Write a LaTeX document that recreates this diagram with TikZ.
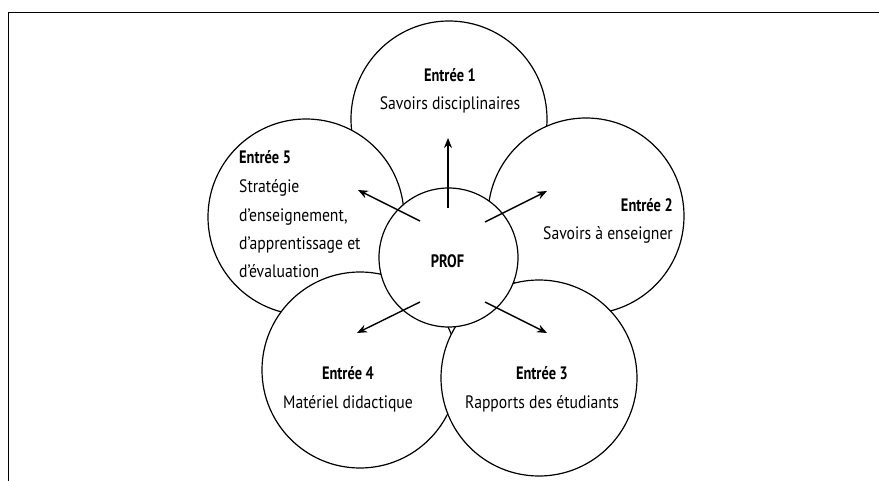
\documentclass[tikz,border=0pt]{standalone}
\usepackage{fontspec}
\setmainfont[FakeStretch=0.87, BoldFeatures={FakeStretch=0.8}]{PT Sans}
\usetikzlibrary{arrows.meta}
\tikzset{
  petal/.style={circle, draw=black, line width=1.2pt, fill=white, minimum size=196pt, inner sep=0pt},
  hub/.style={circle, draw=black, line width=1.2pt, fill=white, minimum size=139pt, inner sep=0pt},
  ttl/.style={anchor=base, inner sep=0pt, font=\fontsize{18}{20}\selectfont\bfseries},
  txt/.style={anchor=base, inner sep=0pt, font=\fontsize{18}{20}\selectfont},
  ray/.style={line width=1.4pt, -{Stealth[length=10pt,width=8pt]}},
  frameline/.style={line width=1.8pt}
}
\begin{document}
\begin{tikzpicture}[x=1pt,y=-1pt]
\useasboundingbox (0,0) rectangle (879,481);
% frame
\coordinate (fl) at (8.5,481);
\coordinate (fc) at (8.5,12.5);
\coordinate (fr) at (879,12.5);
\draw[frameline] (fl) -- (fc) -- (fr);
% petals (drawing order matters)
\node[petal] (c1) at (449,119) {};
\node[petal] (c5) at (306,217) {};
\node[petal] (c2) at (586,216) {};
\node[petal] (c4) at (360,370) {};
\node[petal] (c3) at (539,378) {};
\node[hub] (p) at (448.5,257.5) {};
% texts
\node[ttl] (t1) at (450,82) {Entrée 1};
\node[txt] (s1) at (450,110) {Savoirs disciplinaires};
\node[ttl, anchor=base east] (t2) at (673,212) {Entrée 2};
\node[txt, anchor=base east] (s2) at (673,240) {Savoirs à enseigner};
\node[ttl] (t3) at (542,379) {Entrée 3};
\node[txt] (s3) at (542,408) {Rapports des étudiants};
\node[ttl] (t4) at (348,379) {Entrée 4};
\node[txt] (s4) at (348,408) {Matériel didactique};
\node[ttl, anchor=base west] (t5) at (239,164) {Entrée 5};
\node[txt, anchor=base west] (s5a) at (239,193) {Stratégie};
\node[txt, anchor=base west] (s5b) at (239,222) {d’enseignement,};
\node[txt, anchor=base west] (s5c) at (239,250) {d’apprentissage et};
\node[txt, anchor=base west] (s5d) at (239,278) {d’évaluation};
\node[ttl] (pt) at (447.5,268) {PROF};
% arrows
\coordinate (a1s) at (448,208);
\coordinate (a1e) at (448,138);
\coordinate (a2s) at (485,222);
\coordinate (a2e) at (547,191);
\coordinate (a3s) at (485,302);
\coordinate (a3e) at (547,333);
\coordinate (a4s) at (420,302);
\coordinate (a4e) at (357,333);
\coordinate (a5s) at (420,221);
\coordinate (a5e) at (358,190);
\draw[ray] (a1s) -- (a1e);
\draw[ray] (a2s) -- (a2e);
\draw[ray] (a3s) -- (a3e);
\draw[ray] (a4s) -- (a4e);
\draw[ray] (a5s) -- (a5e);
\end{tikzpicture}
\end{document}
